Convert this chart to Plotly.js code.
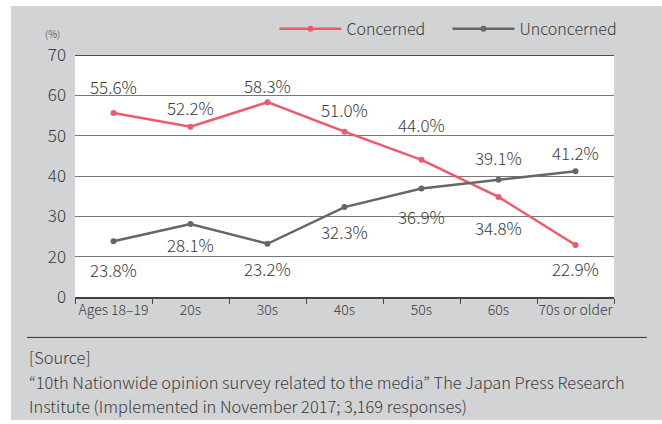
<!DOCTYPE html>
<html>
<head>
<meta charset="utf-8">
<script src="https://cdn.plot.ly/plotly-3.0.1.min.js"></script>
<style>
  html, body { margin: 0; padding: 0; background: #ffffff; width: 662px; height: 424px; overflow: hidden; }
  #chart { position: absolute; left: 11px; top: 6px; width: 651px; height: 414px; }
</style>
</head>
<body>
<div id="chart"></div>
<script>
// ---- data ----
var categories = ["Ages 18\u201319", "20s", "30s", "40s", "50s", "60s", "70s or older"];
var concerned = [55.6, 52.2, 58.3, 51.0, 44.0, 34.8, 22.9];
var unconcerned = [23.8, 28.1, 23.2, 32.3, 36.9, 39.1, 41.2];
var seriesNames = ["Concerned", "Unconcerned"];
var yTickValues = [10, 20, 30, 40, 50, 60, 70];      // axis is broken: 0 drawn at the 10 position
var yTickLabels = ["0", "20", "30", "40", "50", "60", "70"];
var sourceHeader = "[Source]";
var sourceBody = [
  "\u201c10th Nationwide opinion survey related to the media\u201d The Japan Press Research",
  "Institute (Implemented in November 2017; 3,169 responses)"
];

// ---- label placement (pixels, style only) ----
var concernedShift = [27, 19, 17, 22, 35, -31, -24];
var unconcernedShift = [-28, -20, -25, -24, -28, 22, 19];

var FONT = "Noto Sans CJK JP, Noto Sans, sans-serif";
var W = 300;
var TXT = "#3a3a3a";
var RED = "#ee5a6b";
var GRAY = "#666666";

var traces = [
  { x: categories, y: concerned, name: seriesNames[0], type: "scatter", mode: "lines+markers",
    line: { color: RED, width: 2.5 }, marker: { color: RED, size: 6 } },
  { x: categories, y: unconcerned, name: seriesNames[1], type: "scatter", mode: "lines+markers",
    line: { color: GRAY, width: 2.5 }, marker: { color: GRAY, size: 6 } }
];

var annotations = [];
function addLabels(vals, shifts) {
  for (var i = 0; i < vals.length; i++) {
    annotations.push({ x: categories[i], y: vals[i], xref: "x", yref: "y",
      text: vals[i].toFixed(1) + "%", showarrow: false, yshift: shifts[i],
      font: { family: FONT, size: 17, color: TXT, weight: W } });
  }
}
addLabels(concerned, concernedShift);
addLabels(unconcerned, unconcernedShift);

annotations.push({ xref: "paper", yref: "paper", x: -0.042, y: 1.09, xanchor: "center", yanchor: "middle",
  text: "(%)", showarrow: false, font: { family: FONT, size: 10, color: TXT, weight: W } });

// source block: y positions in paper units below the plot
var srcPos = [-0.249, -0.353, -0.452];
var srcTexts = [sourceHeader].concat(sourceBody);
for (var k = 0; k < srcTexts.length; k++) {
  annotations.push({ xref: "paper", yref: "paper", x: -0.089, y: srcPos[k], xanchor: "left", yanchor: "middle",
    text: srcTexts[k], showarrow: false, font: { family: FONT, size: 16.4, color: TXT, weight: W } });
}

var layout = {
  width: 651, height: 414,
  margin: { l: 64, r: 48, t: 49, b: 123, pad: 0, autoexpand: false },
  paper_bgcolor: "#d1d3d4",
  plot_bgcolor: "#ffffff",
  showlegend: true,
  legend: { orientation: "h", x: 1.012, xanchor: "right", y: 1.108, yanchor: "middle",
    font: { family: FONT, size: 16, color: TXT, weight: W }, bgcolor: "rgba(0,0,0,0)", itemwidth: 62,
    entrywidth: 96, entrywidthmode: "pixels" },
  xaxis: { type: "category", range: [-0.5, 6.5], tickson: "boundaries", ticks: "outside", ticklen: 5, tickcolor: "#444",
    showline: true, linecolor: "#444", linewidth: 1.5, showgrid: false, zeroline: false, tickangle: 0,
    tickfont: { family: FONT, size: 14, color: TXT, weight: W }, fixedrange: true },
  yaxis: { range: [10, 70], tickvals: yTickValues, ticktext: yTickLabels, showgrid: true,
    gridcolor: "#777", gridwidth: 1, zeroline: false, showline: false, ticks: "", ticklabelstandoff: 8,
    tickfont: { family: FONT, size: 17, color: TXT, weight: W }, fixedrange: true },
  shapes: [
    { type: "line", xref: "paper", yref: "y", x0: 0, x1: 1, y0: 70, y1: 70, line: { color: "#111", width: 1.5 } },
    { type: "line", xref: "paper", yref: "paper", x0: -0.089, x1: 1.061, y0: -0.167, y1: -0.167,
      line: { color: "#333", width: 1 } }
  ],
  annotations: annotations
};

Plotly.newPlot("chart", traces, layout, { staticPlot: true, displayModeBar: false });
</script>
</body>
</html>
